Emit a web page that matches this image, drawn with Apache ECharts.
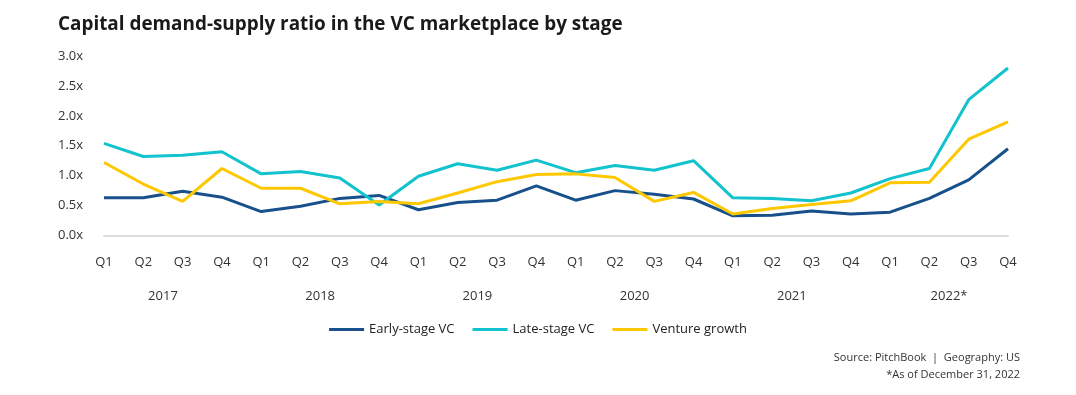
<!DOCTYPE html>
<html>
<head>
<meta charset="utf-8">
<script src="https://cdn.jsdelivr.net/npm/echarts@6/dist/echarts.min.js"></script>
<style>
html,body{margin:0;padding:0;background:#fff;}
#chart{width:1076px;height:395px;}
</style>
</head>
<body>
<div id="chart"></div>
<script>
const quarters = ['Q1','Q2','Q3','Q4','Q1','Q2','Q3','Q4','Q1','Q2','Q3','Q4','Q1','Q2','Q3','Q4','Q1','Q2','Q3','Q4','Q1','Q2','Q3','Q4'];
const years = ['2017','2018','2019','2020','2021','2022*'];
const earlyStage = [0.63,0.63,0.74,0.64,0.40,0.49,0.62,0.67,0.43,0.55,0.59,0.83,0.59,0.75,0.69,0.61,0.33,0.34,0.41,0.36,0.39,0.62,0.93,1.45];
const lateStage  = [1.54,1.32,1.34,1.40,1.03,1.07,0.96,0.51,0.99,1.20,1.09,1.26,1.05,1.17,1.09,1.25,0.63,0.62,0.58,0.71,0.95,1.12,2.27,2.80];
const ventureGrowth = [1.22,0.86,0.57,1.12,0.79,0.79,0.53,0.57,0.53,0.71,0.90,1.02,1.03,0.97,0.57,0.72,0.36,0.45,0.52,0.58,0.88,0.89,1.61,1.90];
const yTicks = [0,0.5,1,1.5,2,2.5,3];

// Year axis: half-step categories so each year label sits midway between Q2 and Q3
const yearCats = [];
for (let i = 0; i < quarters.length * 2 - 1; i++) {
  const k = i - 3;
  yearCats.push(k >= 0 && k % 8 === 0 ? years[k / 8] : '');
}

const font = '"Open Sans", "Noto Sans", sans-serif';
const chart = echarts.init(document.getElementById('chart'));
chart.setOption({
  animation: false,
  backgroundColor: '#fff',
  textStyle: { fontFamily: font },
  title: {
    text: 'Capital demand-supply ratio in the VC marketplace by stage',
    left: 53, top: 10,
    textStyle: { fontFamily: font, fontSize: 18.9, fontWeight: 'bold', color: '#1a1a1a' }
  },
  legend: {
    left: 'center', top: 318,
    itemWidth: 35, itemHeight: 3, itemGap: 18,
    icon: 'rect',
    textStyle: { fontFamily: font, fontSize: 13, color: '#222' },
    data: ['Early-stage VC','Late-stage VC','Venture growth']
  },
  graphic: [{
    type: 'text', right: 56, top: 352,
    style: { text: 'Source: PitchBook  |  Geography: US', fontFamily: font, fontSize: 11, fill: '#333', textAlign: 'right' }
  },{
    type: 'text', right: 56, top: 369,
    style: { text: '*As of December 31, 2022', fontFamily: font, fontSize: 11, fill: '#333', textAlign: 'right' }
  }],
  grid: { left: 104, right: 68, top: 56, bottom: 159.5, containLabel: false },
  xAxis: [{
    type: 'category', data: quarters, boundaryGap: false,
    axisLine: { lineStyle: { color: '#dcdcd8', width: 2 } },
    axisTick: { show: false },
    axisLabel: { fontFamily: font, fontSize: 13, color: '#333', margin: 20, interval: 0 }
  },{
    type: 'category', data: yearCats, boundaryGap: false, position: 'bottom',
    axisLine: { show: false }, axisTick: { show: false },
    axisLabel: { fontFamily: font, fontSize: 13, color: '#333', margin: 54, interval: 0 }
  }],
  yAxis: {
    type: 'value', min: 0, max: 3, interval: 0.5,
    axisLine: { show: false }, axisTick: { show: false },
    splitLine: { show: false },
    axisLabel: {
      fontFamily: font, fontSize: 13, color: '#333', margin: 18, align: 'left',
      padding: [0,0,0,-28],
      formatter: v => v.toFixed(1) + 'x'
    }
  },
  series: [
    { name: 'Early-stage VC', type: 'line', data: earlyStage, symbol: 'none', lineStyle: { width: 3, color: '#17508a' }, itemStyle: { color: '#17508a' } },
    { name: 'Late-stage VC', type: 'line', data: lateStage, symbol: 'none', lineStyle: { width: 3, color: '#12c2cc' }, itemStyle: { color: '#12c2cc' } },
    { name: 'Venture growth', type: 'line', data: ventureGrowth, symbol: 'none', lineStyle: { width: 3, color: '#fdc800' }, itemStyle: { color: '#fdc800' } }
  ]
});
</script>
</body>
</html>
